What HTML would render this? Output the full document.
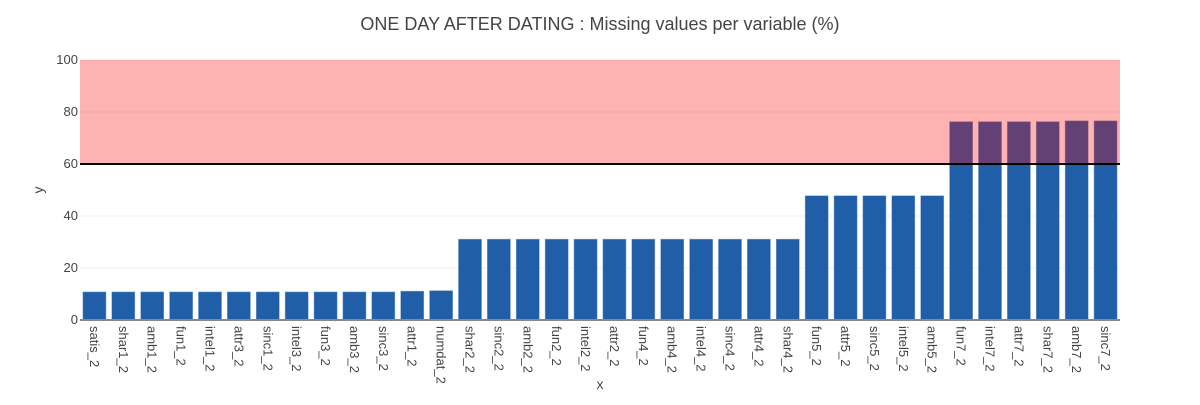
<!DOCTYPE html>
<html><head><meta charset="utf-8"><style>
body{margin:0;background:#fff;font-family:"Liberation Sans",Arial,sans-serif;}
</style></head><body>
<svg id="chart" width="1200" height="400" xmlns="http://www.w3.org/2000/svg" font-family="'Liberation Sans',Arial,sans-serif">
<text x="600" y="30" text-anchor="middle" font-size="18" fill="#444">ONE DAY AFTER DATING : Missing values per variable (%)</text>
<g id="grid"></g><g id="bars"></g><g id="overlay"></g><g id="yticks"></g><g id="xticks"></g>
<text transform="translate(43,190) rotate(-90)" text-anchor="middle" font-size="14" fill="#444">y</text>
<text x="600" y="389" text-anchor="middle" font-size="14" fill="#444">x</text>
</svg>
<script>
const categories=["satis_2","shar1_2","amb1_2","fun1_2","intel1_2","attr3_2","sinc1_2","intel3_2","fun3_2","amb3_2","sinc3_2","attr1_2","numdat_2","shar2_2","sinc2_2","amb2_2","fun2_2","intel2_2","attr2_2","fun4_2","amb4_2","intel4_2","sinc4_2","attr4_2","shar4_2","fun5_2","attr5_2","sinc5_2","intel5_2","amb5_2","fun7_2","intel7_2","attr7_2","shar7_2","amb7_2","sinc7_2"];
const values=[10.8,10.8,10.8,10.8,10.8,10.8,10.8,10.8,10.8,10.8,10.8,11.1,11.3,31.1,31.1,31.1,31.1,31.1,31.1,31.1,31.1,31.1,31.1,31.1,31.1,47.8,47.8,47.8,47.8,47.8,76.3,76.3,76.3,76.3,76.6,76.6];
const yTicks=[0,20,40,60,80,100];
const threshold=60;
const NS="http://www.w3.org/2000/svg";
const L=80,R=1120,T=60,B=320,yMax=100;
const slot=(R-L)/categories.length;
const yS=v=>B-(v/yMax)*(B-T);
const xS=i=>L+slot*(i+0.5);
function mk(tag,attrs,parent){const e=document.createElementNS(NS,tag);for(const k in attrs)e.setAttribute(k,attrs[k]);document.getElementById(parent).appendChild(e);return e;}
yTicks.forEach(t=>{
  if(t>0){const g=mk('line',{x1:L,x2:R,y1:yS(t),y2:yS(t),stroke:'#eee','stroke-width':1},'grid');
  
  }
  const tx=mk('text',{x:L-2,y:yS(t)+4,'text-anchor':'end','font-size':13,fill:'#444'},'yticks');
  tx.textContent=t;
  
  
});
categories.forEach((c,i)=>{
  const w=slot*0.8;
  const b=mk('rect',{x:xS(i)-w/2,y:yS(values[i]),width:w,height:B-yS(values[i]),fill:'#215ea8',stroke:'#7fa3cf','stroke-width':0.5},'bars');
  
  
  const tx=mk('text',{transform:`translate(${xS(i)-4.5},${B+6}) rotate(90)`,'font-size':13,fill:'#444'},'xticks');
  tx.textContent=c;
  
  
});
const z=mk('rect',{x:L,y:T,width:R-L,height:yS(threshold)-T,fill:'rgba(255,0,0,0.3)'},'overlay');


const tl=mk('line',{x1:L,x2:R,y1:yS(threshold),y2:yS(threshold),stroke:'#000','stroke-width':2},'overlay');


const ax=mk('line',{x1:L,x2:R,y1:B,y2:B,stroke:'#888','stroke-width':2},'overlay');


</script>
</body></html>
